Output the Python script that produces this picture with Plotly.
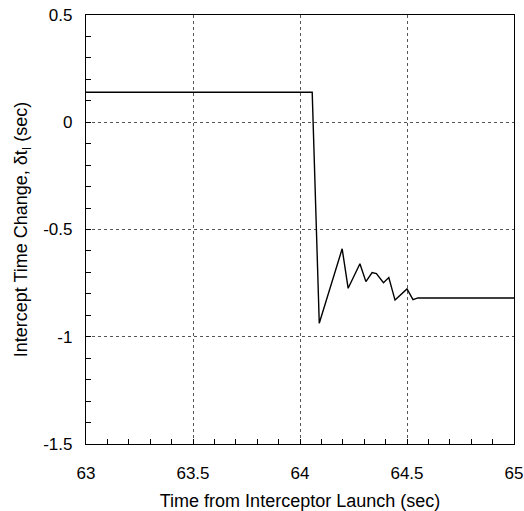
import plotly.graph_objects as go

# Data
time_s = [63.0, 64.057, 64.090, 64.197, 64.225, 64.280, 64.308, 64.337, 64.357,
          64.390, 64.415, 64.444, 64.500, 64.528, 64.551, 65.0]
delta_t = [0.14, 0.14, -0.937, -0.590, -0.774, -0.660, -0.743, -0.701, -0.706,
           -0.748, -0.724, -0.829, -0.777, -0.827, -0.819, -0.819]

x_ticks = [63, 63.5, 64, 64.5, 65]
x_tick_text = ["63", "63.5", "64", "64.5", "65"]
y_ticks = [0.5, 0, -0.5, -1, -1.5]
y_tick_text = ["0.5", "0", "-0.5", "-1", "-1.5"]

font_family = "Liberation Sans, Arial, sans-serif"

fig = go.Figure()
fig.add_trace(go.Scatter(x=time_s, y=delta_t, mode="lines",
                         line=dict(color="black", width=1.4),
                         showlegend=False, hoverinfo="skip"))

fig.update_layout(
    width=524, height=511,
    margin=dict(l=86, r=10, t=15, b=67),
    paper_bgcolor="white", plot_bgcolor="white",
    font=dict(family=font_family, size=17, color="black"),
)

fig.update_xaxes(
    range=[63, 65], automargin=False,
    tickmode="array", tickvals=x_ticks, ticktext=x_tick_text,
    tickfont=dict(size=17),
    ticks="inside", ticklen=5, tickcolor="black",
    minor=dict(dtick=0.1, ticks="inside", ticklen=5, tickcolor="black", showgrid=False),
    showline=True, linecolor="black", linewidth=1.3, mirror=True,
    showgrid=True, gridcolor="#555555", griddash="dot", gridwidth=1,
    zeroline=False,
    ticklabelstandoff=13,
    title=dict(text="Time from Interceptor Launch (sec)", font=dict(size=18), standoff=12),
)
fig.update_yaxes(
    range=[-1.5, 0.5], automargin=False,
    tickmode="array", tickvals=y_ticks, ticktext=y_tick_text,
    tickfont=dict(size=17),
    ticks="inside", ticklen=5, tickcolor="black",
    minor=dict(dtick=0.1, ticks="inside", ticklen=5, tickcolor="black", showgrid=False),
    showline=True, linecolor="black", linewidth=1.3, mirror=True,
    showgrid=True, gridcolor="#555555", griddash="dot", gridwidth=1,
    zeroline=False,
    ticklabelstandoff=9,
    title=dict(text="Intercept Time Change, δt<sub>I</sub> (sec)", font=dict(size=18), standoff=10),
)

fig.write_html("out.html", config={"displayModeBar": False},
               post_script="document.body.style.margin='0';")
